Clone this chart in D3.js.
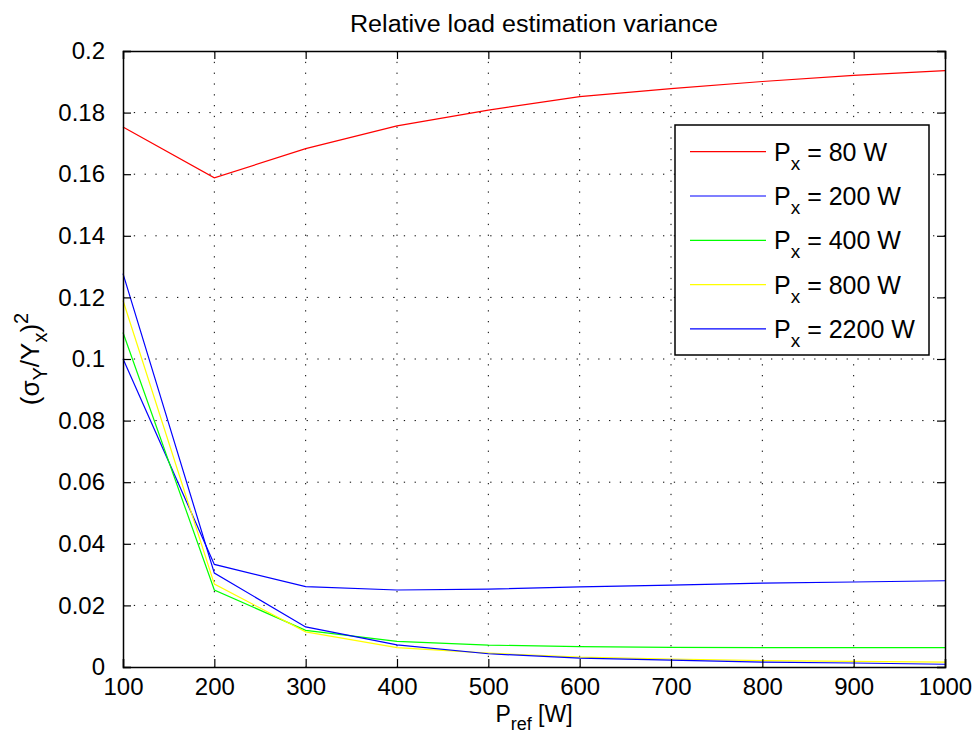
<!DOCTYPE html>
<html><head><meta charset="utf-8">
<script src="https://cdn.jsdelivr.net/npm/d3@7"></script>
<style>
body{margin:0;background:#fff;}
text{font-family:"Liberation Sans",Arial,Helvetica,sans-serif;fill:#000;}
</style></head>
<body>
<svg id="chart" width="978" height="740"></svg>
<script>
const pref = [100,200,300,400,500,600,700,800,900,1000];
const seriesNames = ["80 W","200 W","400 W","800 W","2200 W"];
const seriesColors = ["#ff0000","#0000ff","#00ff00","#ffff00","#0000ff"];
const px80   = [0.1753,0.1588,0.1683,0.1757,0.1808,0.1852,0.1878,0.1901,0.1921,0.1936];
const px200  = [0.1001,0.0333,0.0261,0.0250,0.0253,0.0260,0.0266,0.0272,0.0276,0.0280];
const px400  = [0.1086,0.0250,0.0119,0.0083,0.0071,0.0066,0.0064,0.0063,0.0063,0.0063];
const px800  = [0.1190,0.0269,0.0114,0.0063,0.0045,0.0032,0.0026,0.0021,0.0018,0.0016];
const px2200 = [0.1277,0.0305,0.0130,0.0072,0.0043,0.0029,0.0022,0.0016,0.0013,0.0009];
const seriesValues = [px80,px200,px400,px800,px2200];
const xTicks = [100,200,300,400,500,600,700,800,900,1000];
const yTicks = [0,0.02,0.04,0.06,0.08,0.1,0.12,0.14,0.16,0.18,0.2];
const yTickLabels = ["0","0.02","0.04","0.06","0.08","0.1","0.12","0.14","0.16","0.18","0.2"];

const svg = d3.select("#chart");
const L=123, R=945, T=51, B=667;
const x = d3.scaleLinear().domain([100,1000]).range([L,R]);
const y = d3.scaleLinear().domain([0,0.2]).range([B,T]);
const FS = 24;

// grid
const g = svg.append("g");
g.selectAll(".vg").data(xTicks.slice(1,-1)).enter().append("line")
 .attr("x1",d=>x(d)).attr("x2",d=>x(d)).attr("y1",T).attr("y2",B)
 .attr("stroke","#000").attr("stroke-width",1).attr("stroke-dasharray","1.3,9.5");
g.selectAll(".hg").data(yTicks.slice(1,-1)).enter().append("line")
 .attr("y1",d=>y(d)).attr("y2",d=>y(d)).attr("x1",L).attr("x2",R)
 .attr("stroke","#000").attr("stroke-width",1).attr("stroke-dasharray","1.3,9.5");

// series lines
const line = d3.line().x((d,i)=>x(pref[i])).y(d=>y(d));
seriesValues.forEach((vals,k)=>{
  svg.append("path").datum(vals).attr("d",line).attr("fill","none")
    .attr("stroke",seriesColors[k]).attr("stroke-width",1.2);
});

// axes
const tickLen = 8;
const ax = svg.append("g").attr("transform",`translate(0,${B})`)
  .call(d3.axisBottom(x).tickValues(xTicks).tickSize(-tickLen).tickPadding(11).tickFormat(d3.format("d")));
const axT = svg.append("g").attr("transform",`translate(0,${T})`)
  .call(d3.axisTop(x).tickValues(xTicks).tickSize(-tickLen).tickFormat(""));
const ay = svg.append("g").attr("transform",`translate(${L},0)`)
  .call(d3.axisLeft(y).tickValues(yTicks).tickSize(-tickLen).tickPadding(18).tickFormat((d,i)=>yTickLabels[i]));
const ayR = svg.append("g").attr("transform",`translate(${R},0)`)
  .call(d3.axisRight(y).tickValues(yTicks).tickSize(-tickLen).tickFormat(""));
[ax,axT,ay,ayR].forEach(a=>{
  a.select(".domain").attr("stroke","#000").attr("stroke-width",1.5);
  a.selectAll(".tick line").attr("stroke","#000").attr("stroke-width",1.2);
  a.selectAll(".tick text").attr("font-size",FS).attr("font-family",'"Liberation Sans",Arial,sans-serif').attr("fill","#000");
});

// title
svg.append("text").attr("x",(L+R)/2).attr("y",32).attr("text-anchor","middle")
  .attr("font-size",23).attr("textLength",368).attr("lengthAdjust","spacingAndGlyphs")
  .text("Relative load estimation variance");

// x label
const xl = svg.append("text").attr("x",(L+R)/2).attr("y",722).attr("text-anchor","middle").attr("font-size",23);
xl.append("tspan").text("P");
xl.append("tspan").attr("dy",8).attr("font-size",18).text("ref");
xl.append("tspan").attr("dy",-8).text(" [W]");

// y label
const yl = svg.append("text").attr("transform",`translate(39,${(T+B)/2}) rotate(-90)`)
  .attr("text-anchor","middle").attr("font-size",26);
yl.append("tspan").text("(σ");
yl.append("tspan").attr("dy",8).attr("font-size",20).text("Y");
yl.append("tspan").attr("dy",-8).text("/Y");
yl.append("tspan").attr("dy",8).attr("font-size",20).text("x");
yl.append("tspan").attr("dy",-8).text(")");
yl.append("tspan").attr("dy",-11).attr("font-size",20).text("2");

// legend
const lg = svg.append("g");
lg.append("rect").attr("x",675).attr("y",125).attr("width",254).attr("height",230)
  .attr("fill","#fff").attr("stroke","#000").attr("stroke-width",1.5);
seriesNames.forEach((nm,k)=>{
  const yy = 151.7 + k*44.3;
  lg.append("line").attr("x1",690).attr("x2",766).attr("y1",yy).attr("y2",yy)
    .attr("stroke",seriesColors[k]).attr("stroke-width",1.2);
  const t = lg.append("text").attr("x",774).attr("y",yy+9).attr("font-size",25);
  t.append("tspan").text("P");
  t.append("tspan").attr("dy",9).attr("font-size",19).text("x");
  t.append("tspan").attr("dy",-9).text(" = "+nm);
});
</script>
</body></html>
